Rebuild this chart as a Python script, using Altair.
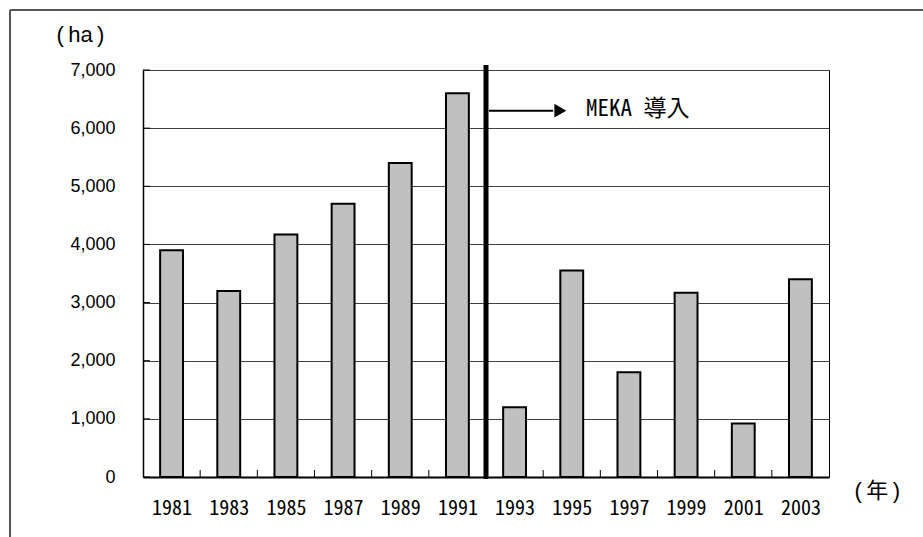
import altair as alt
import pandas as pd

# Planted area by survey year (ha)
years = [1981, 1983, 1985, 1987, 1989, 1991, 1993, 1995, 1997, 1999, 2001, 2003]
area_ha = [3900, 3200, 4170, 4700, 5400, 6600, 1200, 3550, 1800, 3170, 920, 3400]

# Category boundaries (minor ticks between bars) and y tick values
boundary_years = [1982, 1984, 1986, 1988, 1990, 1992, 1994, 1996, 1998, 2000, 2002]
y_values = [0, 1000, 2000, 3000, 4000, 5000, 6000, 7000]

# MEKA programme start and its annotation
meka_year = 1992
arrow_end_year = 1994.6
label_year = 1995.5
annot_value = 6300
annot_text = "MEKA 導入"

W, H = 686, 407
PAD_L, PAD_T = 143, 70

df = pd.DataFrame({"year": years, "area": area_ha})
one = pd.DataFrame({"k": [0]})

x_scale = alt.Scale(domain=[1980, 2004], nice=False, zero=False)
y_scale = alt.Scale(domain=[0, 7000], nice=False)

mono = "Noto Sans Mono CJK JP"
sans = "Liberation Sans"
unit_font = "Liberation Sans, Noto Sans CJK JP"

bars = alt.Chart(df).transform_calculate(
    lo="datum.year - 0.4", hi="datum.year + 0.4"
).mark_bar(fill="#c0c0c0", stroke="black", strokeWidth=2).encode(
    x=alt.X(
        "lo:Q",
        scale=x_scale,
        axis=alt.Axis(
            values=years, format="d", ticks=False, grid=False,
            domainColor="black", domainWidth=2,
            labelFont=mono, labelFontSize=20, labelColor="black",
            labelBaseline="middle", labelPadding=31, labelFlush=False,
            title="(\u2009年\u2009)", titleFont=unit_font, titleFontSize=22,
            titleFontWeight="normal", titleColor="black",
            titleX=W + 25, titleY=13, titleAlign="left", titleBaseline="middle",
        ),
    ),
    x2="hi:Q",
    y=alt.Y(
        "area:Q",
        scale=y_scale,
        axis=alt.Axis(
            values=y_values, format=",d", ticks=False, grid=True,
            gridColor="#404040", gridWidth=1,
            domainColor="black", domainWidth=1.5,
            labelFont=sans, labelFontSize=18,
            labelColor="black", labelPadding=28,
            title="(\u2009ha\u2009)", titleFont=unit_font, titleFontSize=22,
            titleFontWeight="normal", titleColor="black", titleAngle=0,
            titleX=-87, titleY=-36, titleAlign="left", titleBaseline="middle",
        ),
    ),
    y2=alt.datum(0),
)

# Short upward ticks between categories
bticks = alt.Chart(pd.DataFrame({"b": boundary_years})).mark_rule(
    color="black", strokeWidth=1, y2Offset=-7
).encode(
    x=alt.X("b:Q", scale=x_scale),
    y=alt.datum(0, scale=y_scale),
    y2=alt.datum(0),
)

# Short inward ticks on the value axis
yticks = alt.Chart(pd.DataFrame({"v": y_values})).mark_rule(
    color="black", strokeWidth=1, x2Offset=7
).encode(
    x=alt.datum(1980, scale=x_scale),
    x2=alt.datum(1980),
    y=alt.Y("v:Q", scale=y_scale),
)

# Thick line marking the start of MEKA
meka_line = alt.Chart(one).mark_rule(
    color="black", strokeWidth=5, yOffset=2, y2Offset=-5
).encode(
    x=alt.datum(meka_year, scale=x_scale),
    y=alt.datum(0, scale=y_scale),
    y2=alt.datum(7000),
)

arrow_shaft = alt.Chart(one).mark_rule(
    color="black", strokeWidth=2, xOffset=3
).encode(
    x=alt.datum(meka_year, scale=x_scale),
    x2=alt.datum(arrow_end_year - 0.25),
    y=alt.datum(annot_value, scale=y_scale),
)

arrow_head = alt.Chart(one).mark_point(
    shape="triangle-right", filled=True, color="black", size=190, opacity=1
).encode(
    x=alt.datum(arrow_end_year, scale=x_scale),
    y=alt.datum(annot_value, scale=y_scale),
)

arrow_label = alt.Chart(one).mark_text(
    text=annot_text, font=mono, fontSize=23, color="black",
    align="left", baseline="middle", dy=-2
).encode(
    x=alt.datum(label_year, scale=x_scale),
    y=alt.datum(annot_value, scale=y_scale),
)

# Outer frame (top and left edges)
frame_top = alt.Chart(one).mark_rule(color="#555555", strokeWidth=2).encode(
    x=alt.value(10 - PAD_L), x2=alt.value(940 - PAD_L), y=alt.value(10 - PAD_T)
)
frame_left = alt.Chart(one).mark_rule(color="#555555", strokeWidth=2).encode(
    x=alt.value(10 - PAD_L), y=alt.value(10 - PAD_T), y2=alt.value(560 - PAD_T)
)

chart = alt.layer(
    bars, bticks, yticks, meka_line, arrow_shaft, arrow_head, arrow_label,
    frame_top, frame_left,
).properties(
    width=W, height=H,
    autosize=alt.AutoSizeParams(type="none"),
    padding={"left": PAD_L, "top": PAD_T, "right": 923 - PAD_L - W, "bottom": 537 - PAD_T - H},
    background="white",
).configure_view(stroke="black", strokeWidth=1)

chart.save("out.html", embed_options={"renderer": "svg", "actions": False})
